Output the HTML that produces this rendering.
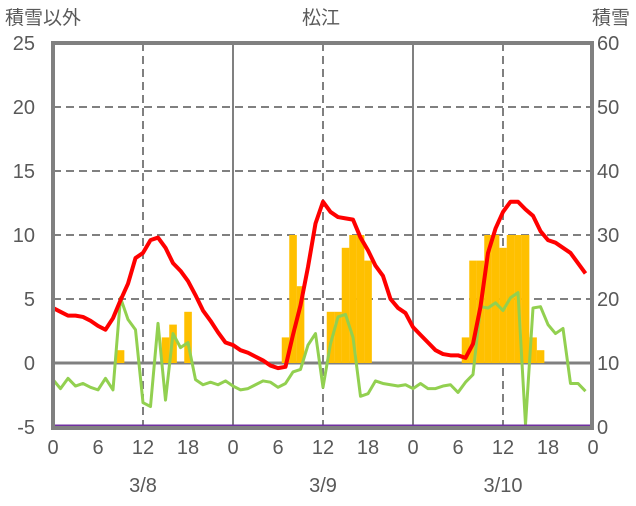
<!DOCTYPE html>
<html><head><meta charset="utf-8"><style>
body{margin:0;background:#fff}
svg text{font-family:"Liberation Sans","Noto Sans CJK JP",sans-serif;fill:#595959}
</style></head><body>
<svg id="chart" width="636" height="501" xmlns="http://www.w3.org/2000/svg">
<g id="grid"></g>
<g id="bars"></g>
<g id="lines"></g>
<g id="frame"></g>
<g id="labels"></g>
</svg>
<script>
const snowHours=[9,15,16,18,31,32,33,37,38,39,40,41,42,55,56,57,58,59,60,61,62,63,64,65];
const snowValues=[12,14,16,18,14,30,22,18,18,28,30,30,26,14,26,26,30,30,28,30,30,30,14,12];
const tempValues=[4.3,4.0,3.7,3.7,3.6,3.3,2.9,2.6,3.5,4.9,6.2,8.2,8.6,9.6,9.8,9.0,7.8,7.2,6.4,5.3,4.1,3.3,2.4,1.6,
1.4,1.0,0.8,0.5,0.2,-0.2,-0.4,-0.3,2.2,4.5,7.5,10.9,12.6,11.8,11.4,11.3,11.2,9.8,8.8,7.6,6.8,5.0,4.3,3.9,
2.8,2.2,1.6,1.0,0.7,0.6,0.6,0.4,1.5,4.4,8.6,10.5,11.8,12.6,12.6,12.0,11.5,10.3,9.6,9.4,9.0,8.6,7.8,7.0];
const otherValues=[-1.3,-2.0,-1.2,-1.8,-1.6,-1.9,-2.1,-1.2,-2.1,5.1,3.4,2.6,-3.1,-3.4,3.1,-2.9,2.3,1.2,1.6,-1.3,-1.7,-1.5,-1.7,-1.4,
-1.8,-2.1,-2.0,-1.7,-1.4,-1.5,-1.9,-1.6,-0.7,-0.5,1.4,2.3,-1.9,1.5,3.6,3.8,2.0,-2.6,-2.4,-1.4,-1.6,-1.7,-1.8,-1.7,
-2.0,-1.6,-2.0,-2.0,-1.8,-1.7,-2.3,-1.5,-0.9,4.4,4.3,4.7,4.1,5.1,5.5,-4.8,4.3,4.4,3.0,2.3,2.7,-1.6,-1.6,-2.2];
const leftTicks=[-5,0,5,10,15,20,25];
const rightTicks=[0,10,20,30,40,50,60];
const xTicks=[0,6,12,18,24,30,36,42,48,54,60,66,72];
const xTickLabels=["0","6","12","18","0","6","12","18","0","6","12","18","0"];
const dateLabels=["3/8","3/9","3/10"];
const X0=53,X1=593,Y0=427,Y1=43;
const x=h=>X0+(X1-X0)*h/72;
const yl=v=>Y0-(Y0-Y1)*(v+5)/30;
const yr=v=>Y0-(Y0-Y1)*v/60;
const NS="http://www.w3.org/2000/svg";
function mk(parent,tag,attrs){const e=document.createElementNS(NS,tag);for(const k in attrs)e.setAttribute(k,attrs[k]);document.getElementById(parent).appendChild(e);return e;}
// grid
leftTicks.forEach(v=>{if(v===-5||v===25)return;
 const l=mk('grid','line',{x1:X0,x2:X1,y1:yl(v),y2:yl(v),stroke:'#808080','stroke-width':v===0?3:2,'stroke-dasharray':v===0?'none':'8,5'});
 
 });
[12,24,36,48,60].forEach(h=>{const solid=h%24===0;
 const l=mk('grid','line',{x1:x(h),x2:x(h),y1:Y1,y2:Y0,stroke:'#808080','stroke-width':2,'stroke-dasharray':solid?'none':'8,5'});
 
 });
// bars
snowHours.forEach((h,i)=>{const v=snowValues[i];
 const r=mk('bars','rect',{x:x(h)-3.75,width:7.6,y:yr(v),height:yr(10)-yr(v),fill:'#FFC000'});
 
 });
function line(vals,color,w,name){const pts=vals.map((v,i)=>x(i)+','+yl(v)).join(' ');
 const p=mk('lines','polyline',{points:pts,fill:'none',stroke:color,'stroke-width':w,'stroke-linejoin':'round'});
 
 }
line(otherValues,'#92D050',3,'other-line');
line(tempValues,'#FF0000',4,'temperature-line');
const bl=mk('lines','line',{x1:X0,x2:X1,y1:Y0-1,y2:Y0-1,stroke:'#7030A0','stroke-width':3});


const fr=mk('frame','rect',{x:X0,y:Y1,width:X1-X0-1,height:Y0-Y1+1,fill:'none',stroke:'#808080','stroke-width':4});


function txt(s,xx,yy,anchor,size,name){const t=mk('labels','text',{x:xx,y:yy,'text-anchor':anchor,'font-size':size});t.textContent=s;
 
 }
leftTicks.forEach(v=>txt(String(v),35,yl(v)+7,'end',20,'y-left-tick'));
rightTicks.forEach(v=>txt(String(v),597,yr(v)+7,'start',20,'y-right-tick'));
xTicks.forEach((h,i)=>txt(xTickLabels[i],x(h),454,'middle',20,'x-tick'));
dateLabels.forEach((d,i)=>txt(d,x(12+24*i),492,'middle',20,'date-label'));
txt('積雪以外',5,24,'start',19,'y-left-title');
txt('松江',321,24,'middle',19,'chart-title');
txt('積雪',630,24,'end',19,'y-right-title');
</script>
</body></html>
